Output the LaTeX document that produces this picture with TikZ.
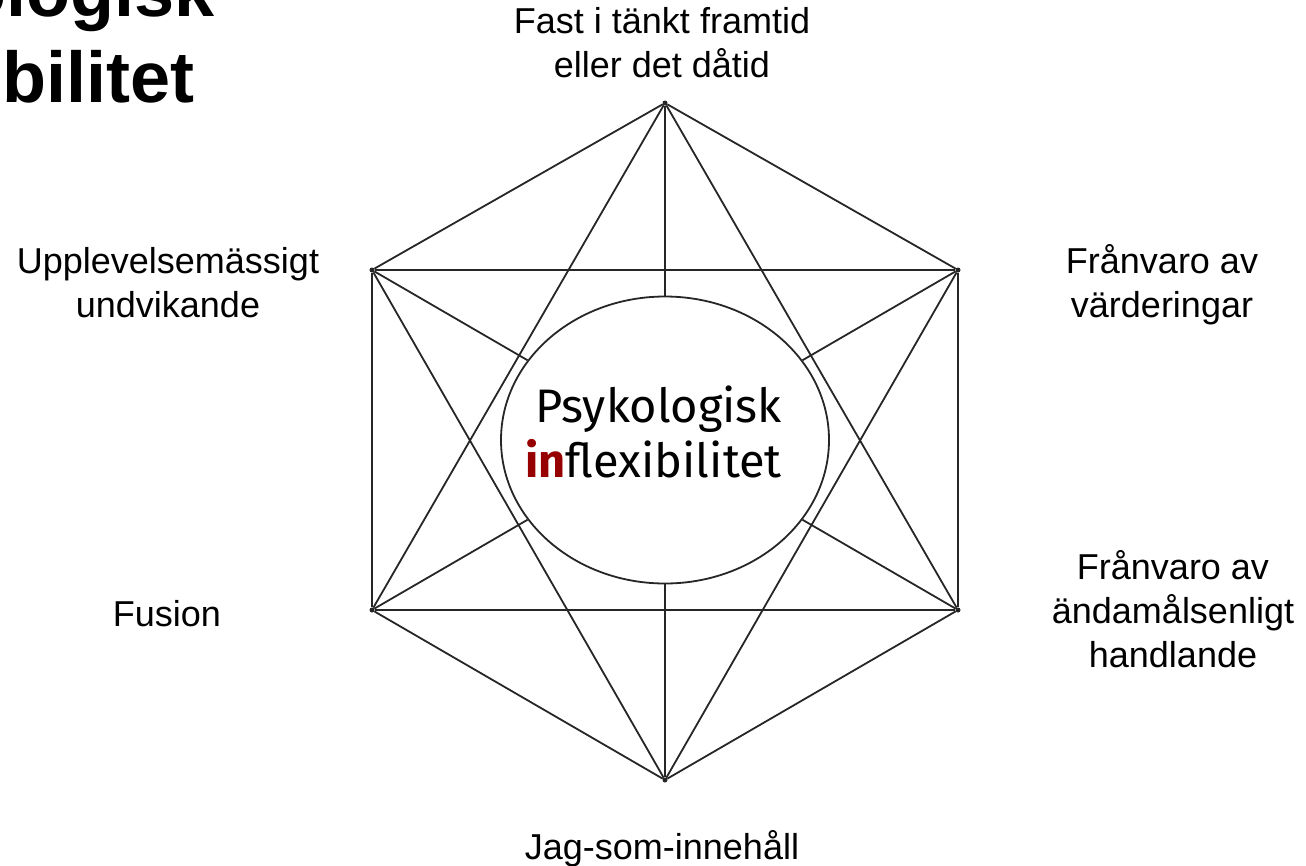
\documentclass[tikz,border=0pt]{standalone}
\usepackage{fontspec}
\setmainfont{Liberation Sans}
\newfontfamily\corefont{Fira Sans}
\usetikzlibrary{shapes.geometric}
\definecolor{inred}{RGB}{150,0,0}

\tikzstyle{corner}=[circle,fill=black!85,minimum size=5pt,inner sep=0pt]
\tikzstyle{edge} = [draw,line width=1.8pt,black!85]
\tikzstyle{facet} = [align=center,font=\fontsize{36}{44}\selectfont,inner sep=0pt,anchor=base]

\begin{document}
\begin{tikzpicture}[x=1pt,y=-1pt]
\useasboundingbox (0,0) rectangle (1306,865);
\node[anchor=base west,align=left,inner sep=0pt,font=\fontsize{72}{86}\selectfont\bfseries]
  (title) at (-206,102) {Psykologisk\\inflexibilitet};
\node[ellipse,draw,line width=1.8pt,black!85,minimum width=328pt,minimum height=287pt,inner sep=0pt]
  (core) at (665,440) {};
\node[anchor=base east,align=right,inner sep=0pt,font=\corefont\fontsize{47}{55}\selectfont]
  (coretext) at (782,477) {Psykologisk\\\textcolor{inred}{\bfseries in}flexibilitet};
\foreach \pos/\name in {{(665,103)/top}, {(958,270)/ur}, {(958,610)/lr},
                         {(665,780)/bot}, {(372,610)/ll}, {(372,270)/ul}}{
  \node[corner] (\name) at \pos {};
}
\foreach \source/\dest in {top/ur, ur/lr, lr/bot, bot/ll, ll/ul, ul/top,
                           ul/ur, ll/lr, top/ll, top/lr, bot/ul, bot/ur} {
  \path[edge] (\source) -- (\dest);
}
\foreach \name in {top,ur,lr,bot,ll,ul} {
  \path[edge] (\name) -- (core);
}
\node[facet] (past) at (662,77) {Fast i tänkt framtid\\eller det dåtid};
\node[facet] (avoid) at (168,317) {Upplevelsemässigt\\undvikande};
\node[facet] (values) at (1162,317) {Frånvaro av\\värderingar};
\node[facet] (fusion) at (167,626) {Fusion};
\node[facet] (action) at (1173,667) {Frånvaro av\\ändamålsenligt\\handlande};
\node[facet] (self) at (662,859) {Jag-som-innehåll};
\end{tikzpicture}
\end{document}
